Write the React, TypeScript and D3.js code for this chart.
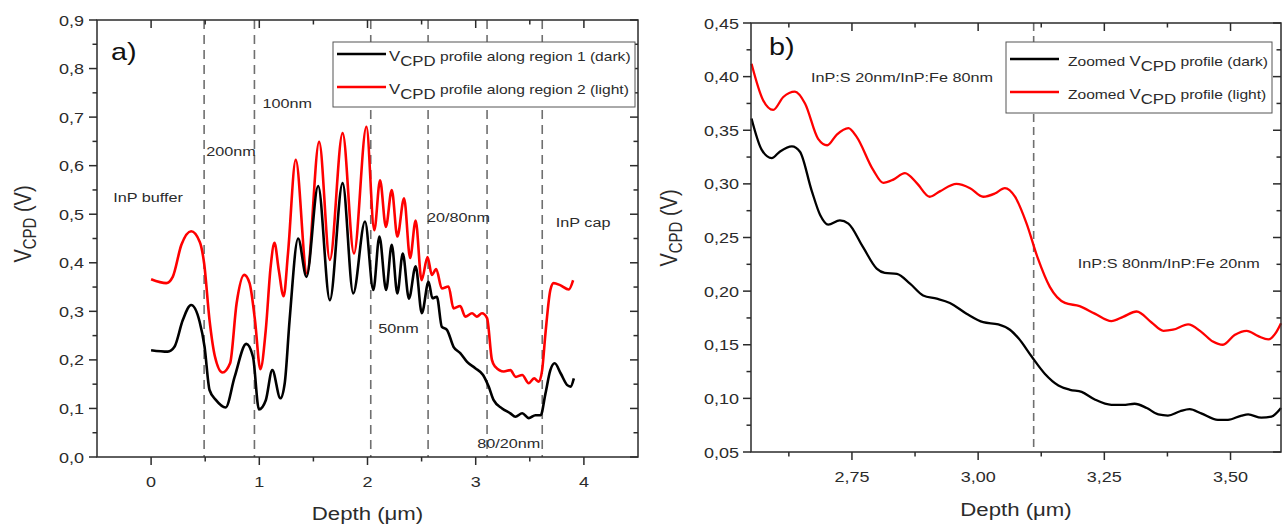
import React from "react";
import * as d3 from "d3";

// ---------- Panel a data ----------
const depthDarkA = [0, 0.154, 0.216, 0.293, 0.37, 0.448, 0.494, 0.54, 0.6, 0.689, 0.772, 0.88, 0.942, 0.997, 1.06, 1.12, 1.195, 1.235, 1.28, 1.359, 1.436, 1.544, 1.652, 1.77, 1.868, 1.977, 2.054, 2.11, 2.172, 2.224, 2.276, 2.326, 2.383, 2.445, 2.502, 2.564, 2.6, 2.641, 2.687, 2.734, 2.795, 2.857, 2.92, 2.996, 3.068, 3.12, 3.166, 3.244, 3.32, 3.367, 3.43, 3.49, 3.552, 3.6, 3.645, 3.69, 3.73, 3.786, 3.846, 3.877, 3.907];
const vDarkA = [0.22, 0.217, 0.227, 0.282, 0.313, 0.279, 0.227, 0.138, 0.117, 0.102, 0.165, 0.233, 0.206, 0.098, 0.117, 0.179, 0.121, 0.152, 0.282, 0.45, 0.371, 0.558, 0.323, 0.564, 0.337, 0.485, 0.344, 0.454, 0.344, 0.437, 0.337, 0.419, 0.326, 0.393, 0.296, 0.361, 0.327, 0.33, 0.268, 0.262, 0.227, 0.214, 0.196, 0.183, 0.169, 0.145, 0.117, 0.1, 0.09, 0.083, 0.09, 0.08, 0.086, 0.086, 0.131, 0.179, 0.193, 0.172, 0.148, 0.145, 0.162];
const depthLightA = [0, 0.14, 0.2, 0.28, 0.37, 0.45, 0.49, 0.54, 0.59, 0.66, 0.73, 0.79, 0.86, 0.91, 0.96, 1.01, 1.06, 1.105, 1.14, 1.18, 1.225, 1.265, 1.337, 1.44, 1.553, 1.652, 1.77, 1.875, 1.99, 2.063, 2.116, 2.17, 2.224, 2.276, 2.338, 2.394, 2.445, 2.5, 2.555, 2.595, 2.635, 2.687, 2.749, 2.795, 2.857, 2.904, 2.966, 3.01, 3.058, 3.105, 3.15, 3.18, 3.26, 3.32, 3.37, 3.43, 3.49, 3.54, 3.583, 3.614, 3.645, 3.69, 3.72, 3.78, 3.86, 3.9];
const vLightA = [0.366, 0.358, 0.371, 0.437, 0.465, 0.443, 0.399, 0.282, 0.207, 0.174, 0.193, 0.316, 0.375, 0.358, 0.282, 0.181, 0.262, 0.392, 0.441, 0.385, 0.331, 0.419, 0.612, 0.378, 0.649, 0.406, 0.667, 0.419, 0.68, 0.467, 0.57, 0.474, 0.55, 0.454, 0.533, 0.41, 0.487, 0.364, 0.412, 0.375, 0.387, 0.347, 0.351, 0.306, 0.311, 0.289, 0.296, 0.289, 0.296, 0.286, 0.2, 0.186, 0.176, 0.179, 0.165, 0.169, 0.152, 0.162, 0.155, 0.179, 0.255, 0.344, 0.358, 0.354, 0.345, 0.364];
const dividersA = [0.49, 0.955, 2.03, 2.56, 3.105, 3.615];
const labelsA = ["InP buffer", "200nm", "100nm", "20/80nm", "InP cap", "50nm", "80/20nm"];
const labelXA = [-0.35, 0.51, 1.03, 2.55, 3.74, 2.1, 3.015];
const labelYA = [0.525, 0.62, 0.719, 0.484, 0.474, 0.255, 0.0185];
const xTicksA = [0, 1, 2, 3, 4];
const xMinorA = [0.5, 1.5, 2.5, 3.5];
const yTicksA = [0, 0.1, 0.2, 0.3, 0.4, 0.5, 0.6, 0.7, 0.8, 0.9];
const yMinorA = [0.05, 0.15, 0.25, 0.35, 0.45, 0.55, 0.65, 0.75, 0.85];
const legendA = ["profile along region 1 (dark)", "profile along region 2 (light)"];

// ---------- Panel b data ----------
const depthDarkB = [2.551, 2.571, 2.591, 2.607, 2.631, 2.647, 2.67, 2.687, 2.703, 2.726, 2.743, 2.772, 2.799, 2.815, 2.839, 2.865, 2.891, 2.918, 2.944, 2.977, 3.01, 3.04, 3.063, 3.08, 3.106, 3.132, 3.159, 3.182, 3.205, 3.231, 3.264, 3.287, 3.31, 3.334, 3.357, 3.376, 3.4, 3.419, 3.442, 3.475, 3.495, 3.522, 3.535, 3.561, 3.581, 3.6];
const vDarkB = [0.361, 0.332, 0.324, 0.33, 0.335, 0.33, 0.294, 0.271, 0.262, 0.266, 0.263, 0.241, 0.221, 0.217, 0.216, 0.207, 0.196, 0.193, 0.189, 0.179, 0.171, 0.169, 0.164, 0.156, 0.139, 0.123, 0.112, 0.108, 0.106, 0.099, 0.094, 0.094, 0.095, 0.091, 0.085, 0.084, 0.088, 0.09, 0.086, 0.08, 0.08, 0.084, 0.085, 0.082, 0.083, 0.091];
const depthLightB = [2.551, 2.574, 2.594, 2.614, 2.637, 2.657, 2.683, 2.701, 2.72, 2.743, 2.759, 2.792, 2.812, 2.832, 2.855, 2.878, 2.904, 2.924, 2.957, 2.984, 3.01, 3.033, 3.053, 3.073, 3.096, 3.118, 3.142, 3.172, 3.201, 3.231, 3.264, 3.287, 3.314, 3.343, 3.367, 3.386, 3.416, 3.442, 3.465, 3.485, 3.508, 3.532, 3.555, 3.575, 3.591, 3.6];
const vLightB = [0.412, 0.378, 0.369, 0.381, 0.386, 0.375, 0.342, 0.336, 0.346, 0.352, 0.344, 0.313, 0.301, 0.304, 0.31, 0.301, 0.288, 0.293, 0.3, 0.296, 0.288, 0.291, 0.296, 0.288, 0.263, 0.231, 0.204, 0.189, 0.186, 0.179, 0.172, 0.176, 0.181, 0.171, 0.163, 0.164, 0.169, 0.162, 0.153, 0.15, 0.159, 0.163, 0.158, 0.155, 0.162, 0.17];
const dividersB = [3.11];
const labelsB = ["InP:S 20nm/InP:Fe 80nm", "InP:S 80nm/InP:Fe 20nm"];
const labelXB = [2.669, 3.1975];
const labelYB = [0.395, 0.2216];
const xTicksB = [2.75, 3.0, 3.25, 3.5];
const xMinorB = [2.625, 2.875, 3.125, 3.375];
const yTicksB = [0.05, 0.1, 0.15, 0.2, 0.25, 0.3, 0.35, 0.4, 0.45];
const yMinorB = [0.075, 0.125, 0.175, 0.225, 0.275, 0.325, 0.375, 0.425];
const legendB = ["profile (dark)", "profile (light)"];

const FONT = "'Liberation Sans', Arial, sans-serif";
const INK = "#2b2b2b";
const SX = 1.2;

type TProps = { x: number; y: number; size: number; anchor?: string; rotate?: boolean; children: React.ReactNode; fill?: string };
function T({ x, y, size, anchor = "start", rotate = false, children, fill = INK }: TProps) {
  return (
    <text
      transform={`translate(${x},${y}) scale(${SX},1)${rotate ? " rotate(-90)" : ""}`}
      fontSize={size}
      fontFamily={FONT}
      textAnchor={anchor}
      fill={fill}
    >
      {children}
    </text>
  );
}

type PanelProps = {
  left: number; right: number; top: number; bottom: number;
  xDomain: [number, number]; yDomain: [number, number];
  xTicks: number[]; xMinor: number[]; yTicks: number[]; yMinor: number[];
  xFmt: (v: number) => string; yFmt: (v: number) => string;
  dark: [number[], number[]]; light: [number[], number[]];
  dividers: number[]; dash: string;
  labels: string[]; labelX: number[]; labelY: number[];
  tag: string; tagX: number; tagY: number;
  legend: string[]; legendPrefix: string; legendBox: [number, number, number, number];
  legendRows: [number, number]; legendText: [number, number];
  yLabelX: number; yLabelY: number; yTickLabelX: number; xTickLabelY: number; xLabelY: number;
  lineW: number;
};

function Panel(p: PanelProps) {
  const x = d3.scaleLinear().domain(p.xDomain).range([p.left, p.right]);
  const y = d3.scaleLinear().domain(p.yDomain).range([p.bottom, p.top]);
  const line = d3
    .line<[number, number]>()
    .x((d) => x(d[0]))
    .y((d) => y(d[1]))
    .curve(d3.curveMonotoneX);
  const darkPts = p.dark[0].map((d, i) => [d, p.dark[1][i]] as [number, number]);
  const lightPts = p.light[0].map((d, i) => [d, p.light[1][i]] as [number, number]);
  const MAJ = 8, MIN = 4.5;
  const [lx0, ly0, lx1, ly1] = p.legendBox;
  const cx = (p.left + p.right) / 2;
  return (
    <g>
      {p.dividers.map((d, i) => (
        <line key={"dv" + i} x1={x(d)} x2={x(d)} y1={p.top} y2={p.bottom} stroke="#6f6f6f" strokeWidth={1.6} strokeDasharray={p.dash} />
      ))}
      <path d={line(lightPts) || ""} fill="none" stroke="#ff0000" strokeWidth={p.lineW} strokeLinejoin="round" />
      <path d={line(darkPts) || ""} fill="none" stroke="#000" strokeWidth={p.lineW} strokeLinejoin="round" />
      <rect x={p.left} y={p.top} width={p.right - p.left} height={p.bottom - p.top} fill="none" stroke={INK} strokeWidth={1.5} />
      {p.xTicks.map((t, i) => (
        <g key={"xt" + i}>
          <line x1={x(t)} x2={x(t)} y1={p.bottom} y2={p.bottom + MAJ} stroke={INK} strokeWidth={1.5} />
          <line x1={x(t)} x2={x(t)} y1={p.top} y2={p.top + MAJ} stroke={INK} strokeWidth={1.5} />
          <T x={x(t)} y={p.xTickLabelY} size={15} anchor="middle">{p.xFmt(t)}</T>
        </g>
      ))}
      {p.xMinor.map((t, i) => (
        <g key={"xm" + i}>
          <line x1={x(t)} x2={x(t)} y1={p.bottom} y2={p.bottom + MIN} stroke={INK} strokeWidth={1.5} />
          <line x1={x(t)} x2={x(t)} y1={p.top} y2={p.top + MIN} stroke={INK} strokeWidth={1.5} />
        </g>
      ))}
      {p.yTicks.map((t, i) => (
        <g key={"yt" + i}>
          <line x1={p.left - MAJ} x2={p.left} y1={y(t)} y2={y(t)} stroke={INK} strokeWidth={1.5} />
          <line x1={p.right - MAJ} x2={p.right} y1={y(t)} y2={y(t)} stroke={INK} strokeWidth={1.5} />
          <T x={p.yTickLabelX} y={y(t) + 5.5} size={15} anchor="end">{p.yFmt(t)}</T>
        </g>
      ))}
      {p.yMinor.map((t, i) => (
        <g key={"ym" + i}>
          <line x1={p.left - MIN} x2={p.left} y1={y(t)} y2={y(t)} stroke={INK} strokeWidth={1.5} />
          <line x1={p.right - MIN} x2={p.right} y1={y(t)} y2={y(t)} stroke={INK} strokeWidth={1.5} />
        </g>
      ))}
      {p.labels.map((s, i) => (
        <T key={"lb" + i} x={x(p.labelX[i])} y={y(p.labelY[i])} size={13.5}>{s}</T>
      ))}
      <T x={p.tagX} y={p.tagY} size={24} fill="#111">{p.tag}</T>
      <rect x={lx0} y={ly0} width={lx1 - lx0} height={ly1 - ly0} fill="#fff" stroke="#555" strokeWidth={1} />
      {p.legend.map((s, i) => (
        <g key={"lg" + i}>
          <line x1={lx0 + 4} x2={lx0 + 53} y1={p.legendRows[i]} y2={p.legendRows[i]} stroke={i === 0 ? "#000" : "#ff0000"} strokeWidth={2.5} />
          <T x={p.legendText[0]} y={p.legendRows[i] + p.legendText[1]} size={13}>
            {p.legendPrefix}
            <tspan fontSize={14}>V</tspan>
            <tspan fontSize={14} dy={5}>CPD</tspan>
            <tspan dy={-5}> {s}</tspan>
          </T>
        </g>
      ))}
      <T x={cx} y={p.xLabelY} size={18.5} anchor="middle">
        Depth (μm)
      </T>
      <T x={p.yLabelX} y={p.yLabelY} size={20} anchor="middle" rotate>
        V<tspan fontSize={15} dy={4}>CPD</tspan>
        <tspan dy={-4}> (V)</tspan>
      </T>
    </g>
  );
}

const comma = (f: string) => (v: number) => d3.format(f)(v).replace(".", ",");

export default function App() {
  return (
    <svg width={1285} height={530} style={{ position: "absolute", left: 0, top: 0, background: "#fff" }}>
      <rect x={0} y={0} width={1285} height={530} fill="#fff" />
      <Panel
        left={97} right={638} top={20} bottom={457}
        xDomain={[-0.5, 4.5]} yDomain={[0, 0.9]}
        xTicks={xTicksA} xMinor={xMinorA} yTicks={yTicksA} yMinor={yMinorA}
        xFmt={d3.format("d")} yFmt={comma(".1f")}
        dark={[depthDarkA, vDarkA]} light={[depthLightA, vLightA]}
        dividers={dividersA} dash="9,6"
        labels={labelsA} labelX={labelXA} labelY={labelYA}
        tag="a)" tagX={111} tagY={60}
        legend={legendA} legendPrefix="" legendBox={[333, 42, 635, 107]}
        legendRows={[54, 87]} legendText={[389, 7]}
        yLabelX={31} yLabelY={224} yTickLabelX={84} xTickLabelY={487} xLabelY={520}
        lineW={2.6}
      />
      <Panel
        left={751} right={1281} top={23} bottom={452}
        xDomain={[2.55, 3.6]} yDomain={[0.05, 0.45]}
        xTicks={xTicksB} xMinor={xMinorB} yTicks={yTicksB} yMinor={yMinorB}
        xFmt={comma(".2f")} yFmt={comma(".2f")}
        dark={[depthDarkB, vDarkB]} light={[depthLightB, vLightB]}
        dividers={dividersB} dash="8,5"
        labels={labelsB} labelX={labelXB} labelY={labelYB}
        tag="b)" tagX={769} tagY={55}
        legend={legendB} legendPrefix="Zoomed " legendBox={[1006, 42, 1272, 113]}
        legendRows={[59, 92]} legendText={[1068, 7]}
        yLabelX={677} yLabelY={228} yTickLabelX={739} xTickLabelY={482} xLabelY={516}
        lineW={2.3}
      />
    </svg>
  );
}
